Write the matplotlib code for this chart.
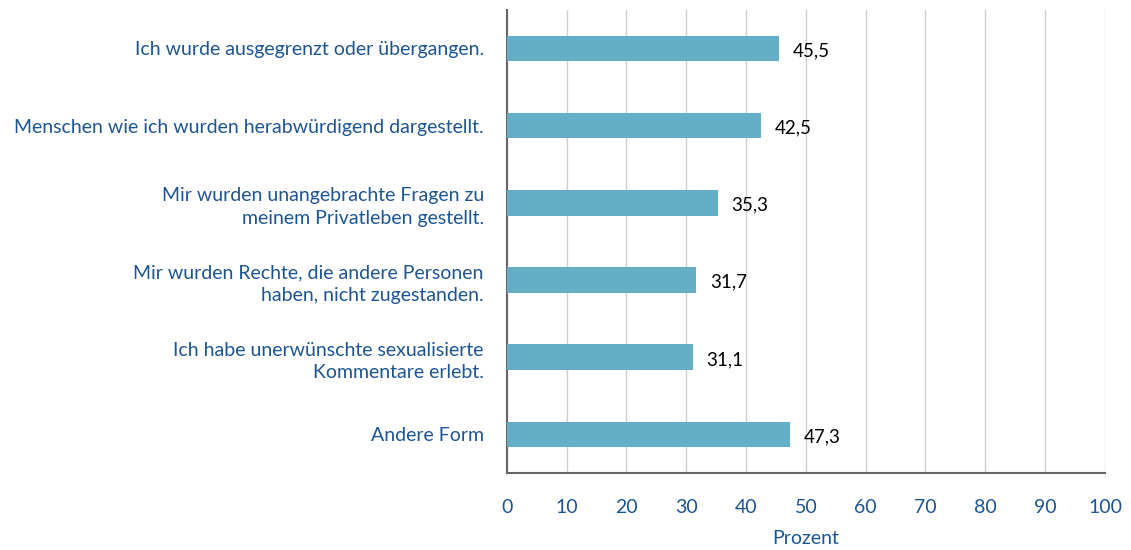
import matplotlib.pyplot as plt
import numpy as np

categories = [
    "Ich wurde ausgegrenzt oder übergangen.",
    "Menschen wie ich wurden herabwürdigend dargestellt.",
    "Mir wurden unangebrachte Fragen zu\nmeinem Privatleben gestellt.",
    "Mir wurden Rechte, die andere Personen\nhaben, nicht zugestanden.",
    "Ich habe unerwünschte sexualisierte\nKommentare erlebt.",
    "Andere Form",
]
values = [45.5, 42.5, 35.3, 31.7, 31.1, 47.3]
xticks = list(range(0, 101, 10))

blue_text = "#1d5592"
bar_color = "#63afc8"

plt.rcParams['font.family'] = ['Lato', 'DejaVu Sans']

fig = plt.figure(figsize=(11.31, 5.5), dpi=100)
ax = fig.add_axes([0.448, 0.14, 0.529, 0.842])

y = np.arange(len(categories))
ax.barh(y, values, height=0.33, color=bar_color, zorder=3)

# value labels to the right of each bar, German decimal comma
for yi, v in zip(y, values):
    ax.text(v + 2.3, yi + 0.03, f"{v:.1f}".replace(".", ","), va="center", ha="left",
            fontsize=13.5, color="black")

ax.set_ylim(5.5, -0.5)
ax.set_xlim(0, 100)
ax.set_yticks(y)
ax.set_yticklabels(categories, fontsize=14, color=blue_text, linespacing=1.4)
ax.set_xticks(xticks)
ax.set_xticklabels([str(t) for t in xticks], fontsize=14, color=blue_text)
ax.tick_params(axis="y", length=0, pad=16.5)
ax.tick_params(axis="x", length=0, pad=19)
ax.set_xlabel("Prozent", fontsize=14, color=blue_text, labelpad=10)

ax.grid(axis="x", color="#d0d0d0", linewidth=1, zorder=0)
for s in ["top", "right"]:
    ax.spines[s].set_visible(False)
for s in ["left", "bottom"]:
    ax.spines[s].set_color("#666666")
    ax.spines[s].set_linewidth(1.5)

fig.savefig("out.png", dpi=100)
